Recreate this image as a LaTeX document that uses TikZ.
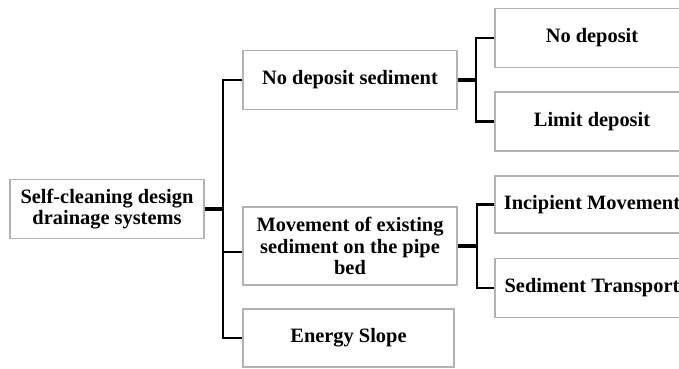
\documentclass[tikz,border=0pt]{standalone}
\usepackage{fontspec}
\setmainfont{Liberation Serif}
\usetikzlibrary{calc}

\begin{document}
\begin{tikzpicture}[x=1pt,y=-1pt,
	box/.style={draw=gray!60,line width=1.2pt,fill=white,align=center,inner sep=2pt,
		font=\fontsize{20.4}{21.5}\selectfont\bfseries,minimum height=59pt},
	wire/.style={line width=2.2pt,line join=miter},
	bus/.style={line width=4pt}]
	\useasboundingbox (0,0) rectangle (679,368);
	\clip (0,0) rectangle (679,368);
	
	%BOXES
	\node[box,minimum width=194pt] (root) at (107,209) {Self-cleaning design\\drainage systems};
	\node[box,minimum width=214pt] (nds) at (350,80) {No deposit sediment};
	\node[box,minimum width=214pt,minimum height=78pt] (mov) at (350,246) {Movement of existing\\sediment on the pipe\\bed};
	\node[box,minimum width=211pt,minimum height=58pt] (esl) at (348.5,338) {Energy Slope};
	\node[box,minimum width=194pt] (nod) at (592,38) {No deposit};
	\node[box,minimum width=194pt] (lim) at (592,121.5) {Limit deposit};
	\node[box,minimum width=194pt,minimum height=57pt] (inc) at (592,204.5) {Incipient Movement};
	\node[box,minimum width=194pt] (sed) at (592,288) {Sediment Transport};
	
	%JOINTS
	\coordinate (j1) at (223,209);
	\coordinate (j2) at (476,80);
	\coordinate (j3) at (477,246);
	\coordinate (mw) at ([yshift=-6pt]mov.west);
	
	%WIRES
	\draw[bus] (root.east) -- (j1);
	\draw[wire] (nds.west) -- (j1 |- nds.west) -- (j1 |- esl.west) -- (esl.west);
	\draw[wire] (mw) -- (j1 |- mw);
	
	\draw[bus] (nds.east) -- (j2);
	\draw[wire] (nod.west) -- (j2 |- nod.west) -- (j2 |- lim.west) -- (lim.west);
	
	\draw[bus] (mov.east) -- (j3);
	\draw[wire] (inc.west) -- (j3 |- inc.west) -- (j3 |- sed.west) -- (sed.west);
\end{tikzpicture}
\end{document}
